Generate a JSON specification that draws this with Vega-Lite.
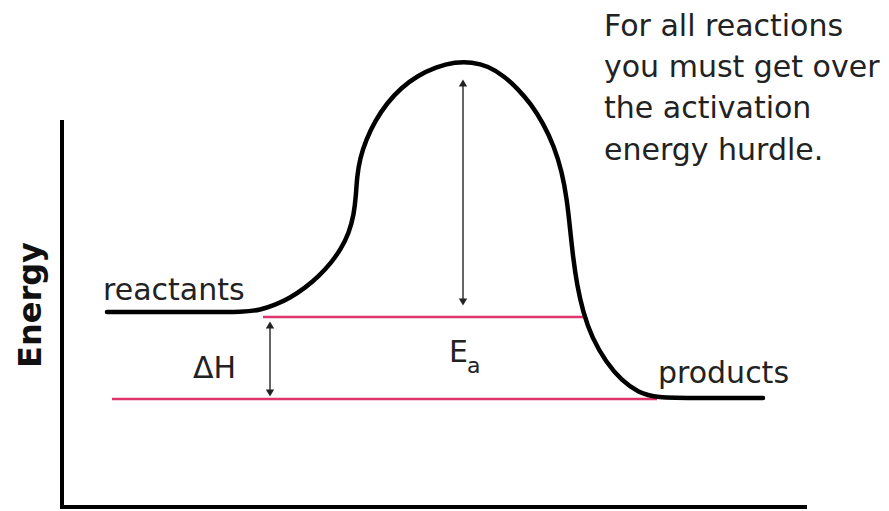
{
  "$schema": "https://vega.github.io/schema/vega-lite/v6.json",
  "width": 889,
  "height": 511,
  "autosize": {"type": "fit", "contains": "padding"},
  "padding": 0,
  "background": "white",
  "config": {"view": {"stroke": null}},
  "datasets": {
    "axes": [
      {"x": 62, "y": 120, "x2": 62, "y2": 507},
      {"x": 60, "y": 507, "x2": 807, "y2": 507}
    ],
    "levels": [
      {"x": 263, "y": 317, "x2": 585, "y2": 317},
      {"x": 112, "y": 399, "x2": 657, "y2": 399}
    ],
    "curve": [
      {"i": 0, "x": 107, "y": 312}, {"i": 1, "x": 200, "y": 312}, {"i": 2, "x": 245, "y": 312},
      {"i": 3, "x": 260, "y": 310}, {"i": 4, "x": 275, "y": 305}, {"i": 5, "x": 290, "y": 298},
      {"i": 6, "x": 305, "y": 288}, {"i": 7, "x": 319, "y": 276}, {"i": 8, "x": 331, "y": 263},
      {"i": 9, "x": 341, "y": 249}, {"i": 10, "x": 349, "y": 233}, {"i": 11, "x": 354, "y": 214},
      {"i": 12, "x": 356, "y": 195}, {"i": 13, "x": 357, "y": 177}, {"i": 14, "x": 360, "y": 158},
      {"i": 15, "x": 366, "y": 140}, {"i": 16, "x": 375, "y": 121}, {"i": 17, "x": 387, "y": 103},
      {"i": 18, "x": 401, "y": 88}, {"i": 19, "x": 417, "y": 76}, {"i": 20, "x": 436, "y": 67},
      {"i": 21, "x": 455, "y": 62}, {"i": 22, "x": 472, "y": 62}, {"i": 23, "x": 488, "y": 66},
      {"i": 24, "x": 504, "y": 76}, {"i": 25, "x": 518, "y": 89}, {"i": 26, "x": 531, "y": 104},
      {"i": 27, "x": 543, "y": 123}, {"i": 28, "x": 554, "y": 146}, {"i": 29, "x": 562, "y": 172},
      {"i": 30, "x": 567, "y": 200}, {"i": 31, "x": 570, "y": 228}, {"i": 32, "x": 573, "y": 257},
      {"i": 33, "x": 577, "y": 285}, {"i": 34, "x": 583, "y": 312}, {"i": 35, "x": 592, "y": 338},
      {"i": 36, "x": 606, "y": 362}, {"i": 37, "x": 622, "y": 381}, {"i": 38, "x": 638, "y": 392},
      {"i": 39, "x": 655, "y": 398}, {"i": 40, "x": 700, "y": 398}, {"i": 41, "x": 763, "y": 398}
    ],
    "arrows": [
      {"x": 463, "y": 82, "x2": 463, "y2": 303},
      {"x": 270, "y": 324, "x2": 270, "y2": 394}
    ],
    "heads": [
      {"x": 463, "y": 83, "dir": "up"},
      {"x": 463, "y": 302, "dir": "down"},
      {"x": 270, "y": 325, "dir": "up"},
      {"x": 270, "y": 393, "dir": "down"}
    ],
    "labels": [
      {"x": 103, "y": 300, "text": "reactants"},
      {"x": 658, "y": 383, "text": "products"},
      {"x": 193, "y": 378, "text": "ΔH"},
      {"x": 449, "y": 362, "text": "E"},
      {"x": 604, "y": 36, "text": "For all reactions"},
      {"x": 604, "y": 77, "text": "you must get over"},
      {"x": 604, "y": 118, "text": "the activation"},
      {"x": 604, "y": 160, "text": "energy hurdle."}
    ],
    "subs": [
      {"x": 467, "y": 373, "text": "a"}
    ],
    "ylabel": [
      {"x": 41, "y": 305, "text": "Energy"}
    ]
  },
  "encoding": {
    "x": {"field": "x", "type": "quantitative", "scale": {"domain": [0, 889], "nice": false, "zero": false}, "axis": null},
    "y": {"field": "y", "type": "quantitative", "scale": {"domain": [0, 511], "nice": false, "zero": false, "reverse": true}, "axis": null}
  },
  "layer": [
    {
      "data": {"name": "levels"},
      "mark": {"type": "rule", "color": "#e0356b", "strokeWidth": 2.5},
      "encoding": {"x2": {"field": "x2"}, "y2": {"field": "y2"}}
    },
    {
      "data": {"name": "axes"},
      "mark": {"type": "rule", "color": "#000000", "strokeWidth": 4},
      "encoding": {"x2": {"field": "x2"}, "y2": {"field": "y2"}}
    },
    {
      "data": {"name": "curve"},
      "mark": {"type": "line", "color": "#000000", "strokeWidth": 4.5, "interpolate": "basis", "strokeCap": "round", "strokeJoin": "round"},
      "encoding": {"order": {"field": "i", "type": "quantitative"}}
    },
    {
      "data": {"name": "arrows"},
      "mark": {"type": "rule", "color": "#333333", "strokeWidth": 1.5},
      "encoding": {"x2": {"field": "x2"}, "y2": {"field": "y2"}}
    },
    {
      "data": {"name": "heads"},
      "mark": {"type": "point", "filled": true, "color": "#222222", "size": 70, "opacity": 1},
      "encoding": {
        "shape": {"field": "dir", "type": "nominal", "scale": {"domain": ["up", "down"], "range": ["triangle-up", "triangle-down"]}, "legend": null}
      }
    },
    {
      "data": {"name": "labels"},
      "mark": {"type": "text", "align": "left", "baseline": "alphabetic", "font": "DejaVu Sans", "fontSize": 30, "color": "#222222"},
      "encoding": {"text": {"field": "text"}}
    },
    {
      "data": {"name": "subs"},
      "mark": {"type": "text", "align": "left", "baseline": "alphabetic", "font": "DejaVu Sans", "fontSize": 22, "color": "#222222"},
      "encoding": {"text": {"field": "text"}}
    },
    {
      "data": {"name": "ylabel"},
      "mark": {"type": "text", "align": "center", "baseline": "alphabetic", "angle": 270, "font": "DejaVu Sans", "fontWeight": "bold", "fontSize": 32, "color": "#111111"},
      "encoding": {"text": {"field": "text"}}
    }
  ]
}
